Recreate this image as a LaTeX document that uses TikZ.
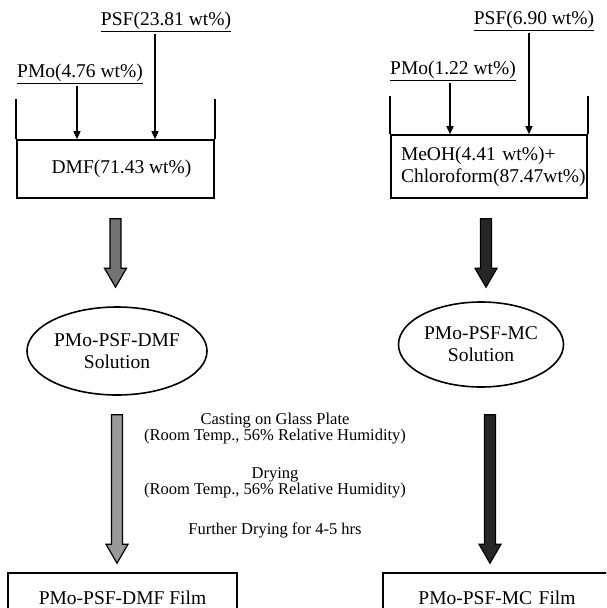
\documentclass[tikz,border=0pt]{standalone}
\usepackage{fontspec}
\setmainfont{Liberation Serif}
\usetikzlibrary{arrows.meta,calc,shapes.geometric,positioning}

% broad shaded arrow, from a point down to a tip
\newcommand{\fatarrow}[3]{%
  \draw[line width=1.2pt,fill=#3] let \p1=(#1), \p2=(#2) in
    (\x1-5.5pt,\y1) -- (\x1+5.5pt,\y1) -- (\x1+5.5pt,\y2+19pt) -- (\x1+11pt,\y2+19pt)
    -- (\x1,\y2) -- (\x1-11pt,\y2+19pt) -- (\x1-5.5pt,\y2+19pt) -- cycle;}

\begin{document}
\begin{tikzpicture}[x=1pt,y=-1pt,
    big/.style={font=\fontsize{19.5}{22}\selectfont},
    small/.style={font=\fontsize{16.5}{15}\selectfont,align=center},
    feed/.style={big,inner sep=2pt},
    liquid/.style={draw,line width=1.6pt,big},
    sol/.style={draw,ellipse,line width=1.6pt,big,align=center,inner xsep=-10pt,inner ysep=0pt},
    film/.style={draw,line width=1.6pt,big,minimum height=50pt},
    drop/.style={line width=1.5pt,-{Triangle[length=8pt,width=7pt]}}]
    \useasboundingbox (0,0) rectangle (606,608);
    \clip (0,0) rectangle (606,608);

    % left batch
    \node[liquid,minimum width=197pt,minimum height=58pt] (liqA) at (115.5,169) {\hspace{12pt}DMF(71.43 wt\%)};
    \draw[line width=1.6pt] (liqA.north west) -- ++(0,-40);
    \draw[line width=1.6pt] (liqA.north east) -- ++(0,-40);
    \node[feed] (psfA) at (166,22) {\underline{PSF(23.81 wt\%)}};
    \node[feed] (pmoA) at (80,74) {\underline{PMo(4.76 wt\%)}};
    \draw[drop] ([xshift=-11pt]psfA.south) -- ([xshift=-11pt]psfA.south |- liqA.north);
    \draw[drop] ([xshift=-3pt]pmoA.south) -- ([xshift=-3pt]pmoA.south |- liqA.north);

    % right batch
    \node[liquid,minimum width=196pt,minimum height=63pt,align=left,text width=176pt] (liqB) at (489,166.5)
        {MeOH(4.41 wt\%)+\\Chloroform(87.47wt\%)};
    \draw[line width=1.6pt] (liqB.north west) -- ++(0,-38);
    \draw[line width=1.6pt] (liqB.north east) -- ++(0,-38);
    \node[feed] (psfB) at (534,21) {\underline{PSF(6.90 wt\%)}};
    \node[feed] (pmoB) at (453,71) {\underline{PMo(1.22 wt\%)}};
    \draw[drop] ([xshift=-5pt]psfB.south) -- ([xshift=-5pt]psfB.south |- liqB.north);
    \draw[drop] ([xshift=-3pt]pmoB.south) -- ([xshift=-3pt]pmoB.south |- liqB.north);

    % solutions
    \node[sol,minimum width=180pt,minimum height=88pt] (solA) at (117,351) {PMo-PSF-DMF\\Solution};
    \node[sol,minimum width=165pt,minimum height=85pt] (solB) at (481,344.5) {PMo-PSF-MC\\Solution};
    \fatarrow{[yshift=-20pt]liqA.south}{[yshift=19pt]solA.north}{black!55}
    \fatarrow{[xshift=-3pt,yshift=-20pt]liqB.south}{[yshift=14pt]solB.north}{black!85}

    % films
    \node[film,minimum width=229pt] (filmA) at (122.5,598) {PMo-PSF-DMF Film};
    \node[film,minimum width=237pt,text width=200pt,align=center] (filmB) at (501.5,598) {\hspace{-9pt}PMo-PSF-MC Film};
    \fatarrow{[yshift=-19pt]solA.south}{[yshift=9pt]filmA.north}{black!40}
    \fatarrow{[xshift=9pt,yshift=-27pt]solB.south}{[yshift=9pt]filmB.north}{black!85}

    % process steps
    \node[small] (cast) at (275,428.5) {Casting on Glass Plate\\(Room Temp., 56\% Relative Humidity)};
    \node[small] (dry) at (275,482.5) {Drying\\(Room Temp., 56\% Relative Humidity)};
    \node[small] (further) at (275,530) {Further Drying for 4-5 hrs};
\end{tikzpicture}
\end{document}
